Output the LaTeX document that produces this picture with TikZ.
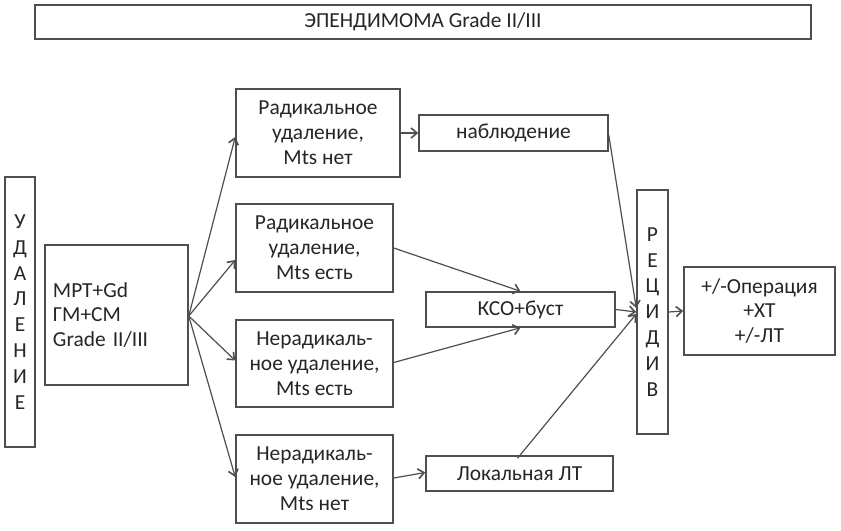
\documentclass[tikz,border=0pt]{standalone}
\usepackage{fontspec}
\setmainfont{Carlito}
\usetikzlibrary{arrows.meta,calc}
\definecolor{txt}{HTML}{262626}
\definecolor{ln}{HTML}{4F4F4F}
\tikzset{
  box/.style={draw=ln, line width=1.5bp, text=txt, inner sep=0pt, align=center,
    font=\fontsize{21.5}{25}\selectfont},
  conn/.style={draw=ln, line width=1.2bp, -{Straight Barb[length=6bp,width=10bp,line width=1.6bp]}},
}
\begin{document}
\begin{tikzpicture}[x=1bp,y=-1bp]
\useasboundingbox (0,0) rectangle (841,531);
\fill[white] (0,0) rectangle (841,531);
\node[box, minimum width=776bp, minimum height=34bp] (title) at (423,22) {ЭПЕНДИМОМА Grade II/III};
\node[box, minimum width=30bp, minimum height=270bp, font=\fontsize{21.5}{26}\selectfont] (udal) at (20,312) {У\\Д\\А\\Л\\Е\\Н\\И\\Е};
\node[box, minimum width=143bp, minimum height=140bp, align=left, text width=127bp] (mrt) at (116.5,315) {МРТ+Gd\\ГМ+СМ\\Grade II/III};
\node[box, minimum width=164bp, minimum height=88bp] (b1) at (318,133) {Радикальное\\удаление,\\Mts нет};
\node[box, minimum width=157bp, minimum height=88bp] (b2) at (314.5,248) {Радикальное\\удаление,\\Mts есть};
\node[box, minimum width=157bp, minimum height=87bp] (b3) at (314.5,363.5) {Нерадикаль-\\ное удаление,\\Mts есть};
\node[box, minimum width=157bp, minimum height=88bp] (b4) at (314.5,479) {Нерадикаль-\\ное удаление,\\Mts нет};
\node[box, minimum width=189bp, minimum height=36bp] (nab) at (513.5,133) {наблюдение};
\node[box, minimum width=189bp, minimum height=35bp] (kso) at (520.5,309.5) {КСО+буст};
\node[box, minimum width=187bp, minimum height=35bp] (lok) at (519.5,473.5) {Локальная ЛТ};
\node[box, minimum width=31bp, minimum height=244bp, font=\fontsize{21.5}{26}\selectfont] (rec) at (652.5,312) {Р\\Е\\Ц\\И\\Д\\И\\В};
\node[box, minimum width=151bp, minimum height=88bp] (res) at (759.5,311) {+/-Операция\\+ХТ\\+/-ЛТ};
\coordinate (src) at ($(mrt.east)+(0,1)$);
\draw[conn] (src) -- ($(b1.west)+(0,4)$);
\draw[conn] (src) -- ($(b2.west)+(0,12)$);
\draw[conn] (src) -- ($(b3.west)+(0,-3)$);
\draw[conn] (src) -- ($(b4.west)+(0,-2)$);
\draw[conn] (b1.east) -- (nab.west);
\draw[conn] (b2.east) -- (kso.north);
\draw[conn] ($(b3.east)+(0,-1)$) -- (kso.south);
\draw[conn] ($(b4.east)+(0,-1)$) -- ($(lok.west)+(0,-1)$);
\draw[conn] ($(nab.east)+(0,2)$) -- ($(rec.west)+(0,-4)$);
\draw[conn] (kso.east) -- (rec.west);
\draw[conn] ($(lok.north)+(-2,3)$) -- ($(rec.west)+(0,2)$);
\draw[conn] (rec.east) -- (res.west);
\end{tikzpicture}
\end{document}
